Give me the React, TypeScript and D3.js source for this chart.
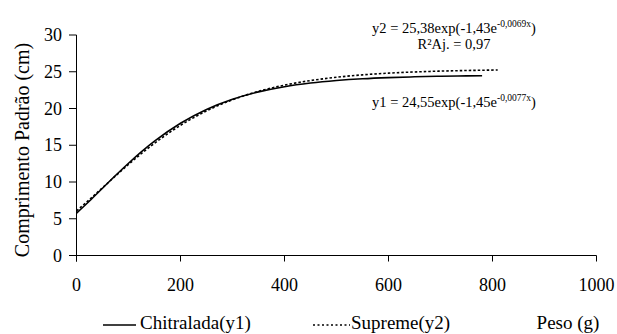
import * as d3 from "d3";

// valores (peso em g, comprimento em cm)
const pesoY1 = [0, 25, 50, 75, 100, 150, 200, 250, 300, 350, 400, 450, 500, 550, 600, 650, 700, 750, 780];
const chitralada = [5.76, 7.42, 9.15, 10.88, 12.55, 15.55, 17.99, 19.87, 21.26, 22.26, 22.97, 23.46, 23.8, 24.04, 24.2, 24.31, 24.39, 24.44, 24.46];
const pesoY2 = [0, 25, 50, 75, 100, 150, 200, 250, 300, 350, 400, 450, 500, 550, 600, 650, 700, 750, 810];
const supreme = [6.07, 7.62, 9.22, 10.82, 12.39, 15.27, 17.71, 19.67, 21.19, 22.33, 23.18, 23.8, 24.25, 24.58, 24.81, 24.97, 25.09, 25.17, 25.24];
const xTicks = [0, 200, 400, 600, 800, 1000];
const yTicks = [0, 5, 10, 15, 20, 25, 30];

const W = 617;
const H = 334;
const tx = { fontFamily: "Liberation Serif" };

export default function App() {
  const x = d3.scaleLinear().domain([0, 1000]).range([76.5, 596.5]);
  const y = d3.scaleLinear().domain([0, 30]).range([255.5, 35]);

  const line = d3
    .line<number>()
    .x((d) => x(d))
    .curve(d3.curveMonotoneX);

  const path1 = line.y((_, i) => y(chitralada[i]))(pesoY1) || "";
  const path2 = line.y((_, i) => y(supreme[i]))(pesoY2) || "";

  const y0 = y(0);
  const x0 = x(0);

  return (
    <svg width={W} height={H} style={{ position: "absolute", left: 0, top: 0 }}>
      <g fill="#000">
        {/* eixo x */}
        <line x1={70} x2={x(1000)} y1={y0} y2={y0} stroke="#000" strokeWidth={1} />
        {xTicks.map((t) => (
          <g key={"xt" + t}>
            <line x1={x(t)} x2={x(t)} y1={y0} y2={y0 + 6} stroke="#000" strokeWidth={1} />
            <text x={x(t)} y={291} textAnchor="middle" fontSize={18} style={tx}>
              {t}
            </text>
          </g>
        ))}
        {/* eixo y */}
        <line x1={x0} x2={x0} y1={y(30)} y2={y0 + 6} stroke="#000" strokeWidth={1} />
        {yTicks.map((t) => (
          <g key={"yt" + t}>
            <line x1={69} x2={x0} y1={y(t)} y2={y(t)} stroke="#000" strokeWidth={1} />
            <text x={62} y={y(t) + 6} textAnchor="end" fontSize={18} style={tx}>
              {t}
            </text>
          </g>
        ))}
        <text transform="translate(29,150) rotate(-90)" textAnchor="middle" fontSize={20} style={tx}>
          Comprimento Padrão (cm)
        </text>

        {/* curvas */}
        <path d={path2} fill="none" stroke="#000" strokeWidth={1.6} strokeDasharray="2.5,2" />
        <path d={path1} fill="none" stroke="#000" strokeWidth={1.6} />

        {/* equações */}
        <text x={454} y={33} textAnchor="middle" fontSize={14.5} style={tx}>
          y2 = 25,38exp(-1,43e<tspan fontSize={9.5} dy={-6}>-0,0069x</tspan>
          <tspan dy={6}>)</tspan>
        </text>
        <text x={454} y={49} textAnchor="middle" fontSize={14.5} style={tx}>
          R²Aj. = 0,97
        </text>
        <text x={454} y={107} textAnchor="middle" fontSize={14.5} style={tx}>
          y1 = 24,55exp(-1,45e<tspan fontSize={9.5} dy={-6}>-0,0077x</tspan>
          <tspan dy={6}>)</tspan>
        </text>

        {/* legenda */}
        <line x1={103} x2={136} y1={325} y2={325} stroke="#000" strokeWidth={1.3} />
        <text x={140} y={329} fontSize={19} style={tx}>
          Chitralada(y1)
        </text>
        <line x1={313} x2={350} y1={325} y2={325} stroke="#000" strokeWidth={1.6} strokeDasharray="2,2.5" />
        <text x={351} y={329} fontSize={19} style={tx}>
          Supreme(y2)
        </text>
        <text x={568} y={329} textAnchor="middle" fontSize={19} style={tx}>
          Peso (g)
        </text>
      </g>
    </svg>
  );
}
